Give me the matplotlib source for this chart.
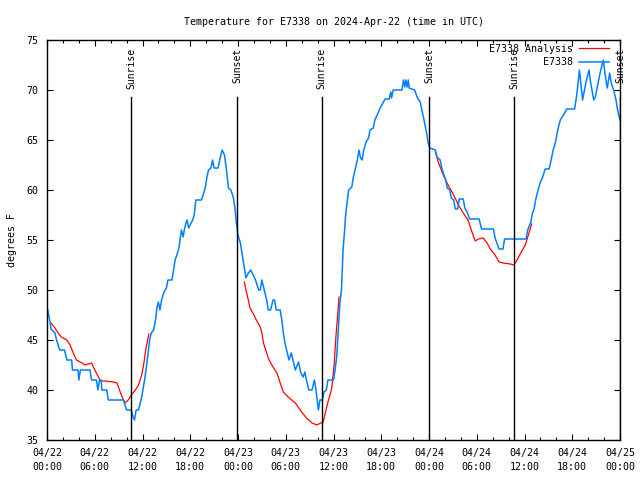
import numpy as np
import matplotlib
matplotlib.use('Agg')
import matplotlib.pyplot as plt
from matplotlib.ticker import MultipleLocator

plt.rcParams['font.family'] = ['DejaVu Sans Mono']
plt.rcParams['font.size'] = 7

# hours since 04/22 00:00 UTC
blue_h = [0.1, 0.4, 0.5, 1.0, 1.2, 1.6, 2.2, 2.5, 3.1, 3.2, 3.9, 4.0, 4.2, 5.4, 5.6, 6.2, 6.4, 6.6, 6.8, 6.9,
          7.5, 7.7, 9.6, 10.0, 10.6, 10.8, 11.0, 11.2, 11.5, 11.9, 12.3, 12.6, 12.9, 13.1, 13.4, 13.7, 13.8, 14.0,
          14.2, 14.4, 14.7, 15.0, 15.2, 15.7, 16.0, 16.1, 16.4, 16.6, 16.7, 16.9, 17.1, 17.3, 17.5, 17.6, 17.8,
          18.3, 18.5, 18.7, 19.4, 19.7, 19.9, 20.1, 20.3, 20.6, 20.8, 21.0, 21.5, 21.7, 22.0, 22.3, 22.6, 22.8,
          23.1, 23.4, 23.6, 23.8, 24.0, 24.3, 24.5, 24.7, 25.0, 25.3, 25.6, 25.9, 26.2, 26.6, 26.8, 27.0, 27.3,
          27.6, 27.8, 28.1, 28.4, 28.6, 28.8, 29.3, 29.5, 29.7, 29.9, 30.2, 30.4, 30.7, 30.9, 31.2, 31.6, 31.9,
          32.2, 32.4, 32.6, 32.9, 33.3, 33.6, 33.8, 34.0, 34.1, 34.3, 34.6, 34.8, 35.1, 35.3, 36.0, 36.2, 36.4,
          36.6, 36.8, 37.0, 37.1, 37.2, 37.4, 37.5, 37.7, 37.9, 38.3, 38.5, 38.7, 39.0, 39.2, 39.4, 39.6, 39.8,
          40.1, 40.4, 40.6, 41.0, 41.2, 41.6, 41.8, 42.2, 42.5, 43.0, 43.2, 43.3, 43.5, 44.6, 44.8, 44.95, 45.1,
          45.25, 45.4, 45.5, 46.2, 46.5, 46.9, 47.1, 47.3, 47.5, 47.7, 47.9, 48.1, 48.8, 49.0, 49.4, 49.6, 49.8,
          50.1, 50.3, 50.6, 50.8, 51.1, 51.3, 51.6, 51.8, 52.3, 52.5, 52.8, 53.1, 54.3, 54.6, 56.1, 56.3, 56.8,
          57.3, 57.5, 60.2, 60.4, 60.8, 61.0, 61.2, 61.4, 61.7, 62.0, 62.2, 62.6, 63.1, 63.4, 63.6, 63.9, 64.2,
          64.5, 64.9, 65.3, 66.3, 66.6, 66.9, 67.1, 67.3, 67.7, 68.1, 68.3, 68.7, 68.9, 69.5, 69.9, 70.1, 70.4,
          70.7, 70.9, 71.2, 71.5, 71.7, 72.0]
blue_t = [48.0, 46.7, 46.1, 45.7, 45.0, 44.0, 44.0, 43.0, 43.0, 42.0, 42.0, 41.0, 42.0, 42.0, 41.0, 41.0, 40.0, 41.0, 41.0, 40.0,
          40.0, 39.0, 39.0, 38.0, 38.0, 37.3, 37.0, 38.0, 38.0, 39.3, 41.2, 43.0, 45.0, 45.7, 46.0, 47.3, 48.2, 48.8,
          48.0, 49.0, 49.8, 50.2, 51.0, 51.0, 52.5, 53.0, 53.7, 54.3, 55.0, 56.0, 55.3, 56.2, 56.8, 57.0, 56.2,
          57.0, 57.5, 59.0, 59.0, 59.7, 60.3, 61.3, 62.0, 62.2, 63.0, 62.2, 62.2, 63.0, 64.0, 63.5, 61.7, 60.2,
          60.0, 59.3, 58.3, 56.7, 55.5, 54.7, 53.7, 52.7, 51.2, 51.7, 52.0, 51.5, 51.0, 50.0, 50.0, 51.0, 50.0,
          49.0, 48.0, 48.0, 49.0, 49.0, 48.0, 48.0, 47.0, 45.7, 44.7, 43.7, 43.0, 43.7, 43.0, 42.0, 42.8, 41.7,
          41.3, 41.8, 41.0, 40.0, 40.0, 41.0, 40.0, 38.7, 38.0, 39.0, 39.0, 39.8, 40.0, 41.0, 41.0, 42.0, 43.3,
          46.0, 48.7, 50.0, 52.0, 54.0, 56.0, 57.3, 58.7, 60.0, 60.3, 61.3, 62.0, 63.0, 64.0, 63.2, 63.0, 64.0,
          64.8, 65.2, 66.0, 66.2, 67.0, 67.7, 68.1, 68.7, 69.1, 69.1, 69.8, 69.2, 70.0, 70.0, 71.0, 70.3, 71.0,
          70.3, 71.0, 70.2, 70.0, 69.3, 68.8, 68.0, 67.3, 66.5, 65.7, 64.7, 64.2, 64.0, 63.3, 63.0, 62.2, 61.7,
          61.0, 60.2, 60.0, 59.2, 59.0, 58.1, 58.1, 59.1, 59.1, 58.2, 57.8, 57.1, 57.1, 56.1, 56.1, 55.2, 54.1,
          54.1, 55.1, 55.1, 56.0, 56.8, 57.7, 58.1, 59.0, 60.0, 60.8, 61.1, 62.1, 62.1, 63.2, 64.0, 64.8, 66.1,
          67.0, 67.5, 68.1, 68.1, 69.7, 72.0, 70.5, 69.0, 70.7, 72.0, 70.8, 69.0, 69.3, 71.7, 73.0, 71.7, 70.2,
          71.7, 70.7, 70.0, 69.0, 68.0, 67.0]

# analysis, gaps as nan
red_h = [0.5, 1.0, 1.4, 1.8, 2.5, 2.9, 3.3, 3.7, 4.4, 4.8, 5.2, 5.6, 6.0, 6.4, 6.7, 7.3, 8.3, 8.8, 9.2, 9.5,
         9.8, 10.2, 10.6, 11.1, 11.5, 11.9, 12.2, 12.4, 12.8, np.nan,
         24.8, 25.0, 25.3, 25.5, 26.0, 26.3, 26.8, 27.0, 27.2, 27.6, 27.9, 28.4, 28.9, 29.3, 29.7, 30.3, 31.2,
         32.0, 32.6, 33.3, 33.9, 34.4, 34.7, 35.0, 35.3, 35.6, 35.8, 36.1, 36.3, 36.5, 36.7, np.nan,
         48.8, 49.2, 49.8, 50.4, 51.1, 51.7, 52.3, 52.9, 53.4, 53.8, 54.2, 54.8, 55.3, 55.7, 56.3, 56.8, 57.3,
         58.2, 58.7, 59.2, 59.6, 60.1, 60.9]
red_t = [46.7, 46.2, 45.7, 45.3, 45.0, 44.5, 43.7, 43.0, 42.7, 42.5, 42.6, 42.7, 42.0, 41.4, 40.9, 40.9, 40.8, 40.7, 39.8, 39.2,
         38.7, 39.0, 39.5, 40.0, 40.5, 41.5, 42.8, 44.0, 45.6, np.nan,
         50.8, 50.0, 49.0, 48.2, 47.5, 47.0, 46.3, 45.7, 44.7, 43.7, 43.0, 42.3, 41.7, 40.7, 39.8, 39.3, 38.7,
         37.8, 37.2, 36.7, 36.5, 36.7, 36.8, 37.8, 38.8, 39.6, 40.3, 42.7, 45.3, 47.3, 49.3, np.nan,
         63.8, 62.7, 61.5, 60.5, 59.5, 58.5, 57.7, 57.0, 55.8, 54.9, 55.1, 55.2, 54.7, 54.1, 53.5, 52.8, 52.7,
         52.6, 52.5, 53.2, 53.8, 54.5, 56.6]

sun_h = [10.55, 23.87, 34.5, 48.0, 58.7, 72.0]
sun_labels = ['Sunrise', 'Sunset', 'Sunrise', 'Sunset', 'Sunrise', 'Sunset']

tick_h = [0, 6, 12, 18, 24, 30, 36, 42, 48, 54, 60, 66, 72]
tick_dates = ['04/22', '04/22', '04/22', '04/22', '04/23', '04/23', '04/23', '04/23',
              '04/24', '04/24', '04/24', '04/24', '04/25']
tick_times = ['00:00', '06:00', '12:00', '18:00'] * 3 + ['00:00']

fig = plt.figure(figsize=(6.4, 4.8), dpi=100)
ax = fig.add_axes([47 / 640, 40 / 480, 573 / 640, 400 / 480])

ax.plot(red_h, red_t, color='#ff0000', lw=0.9, label='E7338 Analysis')
ax.plot(blue_h, blue_t, color='#0080ff', lw=1.1, label='E7338')

for h, lab in zip(sun_h, sun_labels):
    ax.plot([h, h], [35, 69.3], color='black', lw=1.0)
    ax.text(h, 74.2, lab, rotation=90, ha='center', va='top')

ax.set_xlim(0, 72)
ax.set_ylim(35, 75)
ax.set_xticks(tick_h)
ax.set_xticklabels([d + '\n' + t for d, t in zip(tick_dates, tick_times)], linespacing=1.45)
ax.xaxis.set_minor_locator(MultipleLocator(2))
ax.yaxis.set_major_locator(MultipleLocator(5))
ax.tick_params(direction='in', top=True, right=True, length=4.5, width=0.8, pad=6, labelsize=7.2)
ax.tick_params(which='minor', direction='in', top=True, right=True, length=2.5, width=0.8)
for s in ax.spines.values():
    s.set_linewidth(1.0)

ax.set_title('Temperature for E7338 on 2024-Apr-22 (time in UTC)', fontsize=7.2, pad=11)
fig.text(0.018, 0.5, 'degrees F', rotation=90, ha='center', va='center', fontsize=7.2)

leg = ax.legend(loc='upper right', bbox_to_anchor=(1.0 - 7 / 573, 1.0), frameon=False, markerfirst=False,
                handlelength=3.0, handletextpad=0.6, borderaxespad=0.2, borderpad=0.2,
                labelspacing=0.35, fontsize=7.2)

fig.savefig('out.png', dpi=100)
